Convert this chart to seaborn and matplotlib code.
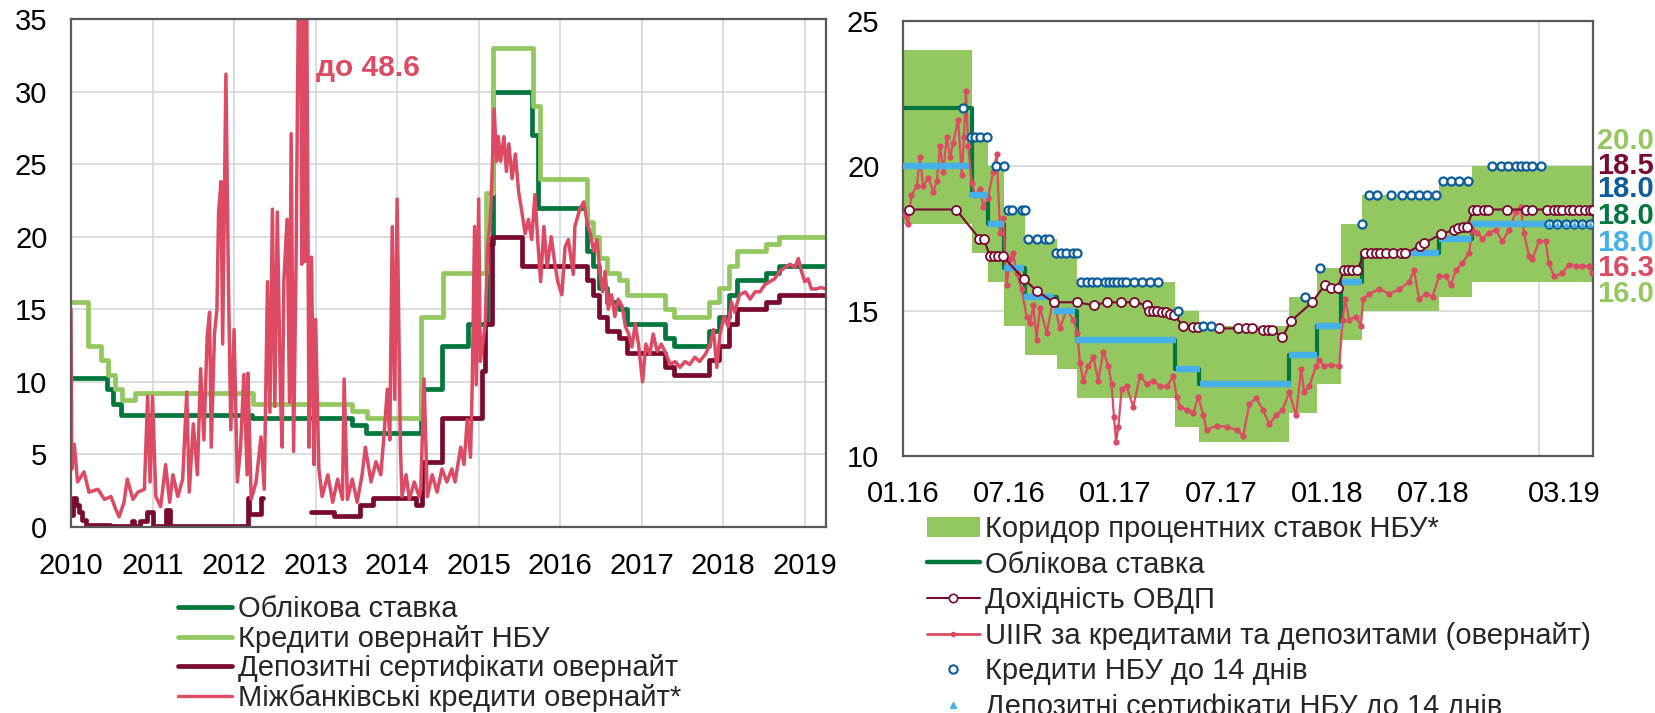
import matplotlib
matplotlib.use("Agg")
import matplotlib.pyplot as plt
import seaborn as sns
from matplotlib.lines import Line2D
from matplotlib.patches import Patch

# colours
DGREEN = "#00773C"
LGREEN = "#92C85F"
MAROON = "#7A0A2E"
PINK = "#DC4B63"
DBLUE = "#0C5C9B"
LBLUE = "#45B0EA"
GRID = "#D3D8DB"
SPINE = "#595959"

# ---------------- left panel data (decimal years) ----------------
disc_t = [2010.0, 2010.436, 2010.52, 2010.61, 2012.224, 2013.441, 2013.616, 2014.288,
          2014.545, 2014.868, 2015.099, 2015.170, 2015.655, 2015.732, 2016.325, 2016.402,
          2016.478, 2016.574, 2016.727, 2016.822, 2017.282, 2017.397, 2017.819, 2017.953,
          2018.068, 2018.164, 2018.529, 2018.682, 2019.27]
disc_v = [10.25, 9.5, 8.5, 7.75, 7.5, 7.0, 6.5, 9.5, 12.5, 14.0, 19.5, 30.0, 27.0, 22.0,
          19.0, 18.0, 16.5, 15.5, 15.0, 14.0, 13.0, 12.5, 13.5, 14.5, 16.0, 17.0, 17.5, 18.0, 18.0]

refi_t = [2010.0, 2010.21, 2010.37, 2010.45, 2010.54, 2010.63, 2010.78, 2012.23, 2013.45,
          2013.63, 2014.29, 2014.56, 2015.09, 2015.17, 2015.67, 2015.755, 2016.325, 2016.402,
          2016.478, 2016.574, 2016.727, 2016.822, 2017.282, 2017.397, 2017.819, 2017.953,
          2018.068, 2018.164, 2018.529, 2018.682, 2019.27]
refi_v = [15.5, 12.5, 11.5, 10.5, 9.5, 8.75, 9.25, 8.5, 8.0, 7.5, 14.5, 17.5, 23.0, 33.0,
          29.0, 24.0, 21.0, 20.0, 18.5, 17.5, 17.0, 16.0, 15.0, 14.5, 15.5, 16.5, 18.0, 19.0,
          19.5, 20.0, 20.0]

cd1_t = [2010.0, 2010.02, 2010.06, 2010.10, 2010.14, 2010.19, 2010.48, 2010.75, 2010.77,
         2010.85, 2010.93, 2011.01, 2011.17, 2011.21, 2012.17, 2012.185, 2012.31, 2012.33, 2012.35]
cd1_v = [0.8, 2.0, 1.5, 1.0, 0.5, 0.15, 0.05, 0.4, 0.05, 0.4, 1.0, 0.05, 1.2, 0.05, 2.0,
         0.9, 0.9, 2.0, 2.0]
cd2_t = [2012.94, 2013.23, 2013.55, 2013.70, 2014.23, 2014.30, 2014.55, 2015.04, 2015.08,
         2015.16, 2015.53, 2016.325, 2016.402, 2016.478, 2016.574, 2016.727, 2016.822,
         2017.282, 2017.397, 2017.819, 2017.953, 2018.068, 2018.164, 2018.529, 2018.682, 2019.27]
cd2_v = [1.0, 0.75, 1.5, 2.0, 1.5, 4.5, 7.5, 10.75, 14.0, 20.0, 18.0, 17.0, 16.0, 14.5,
         13.5, 13.0, 12.0, 11.0, 10.5, 11.5, 12.5, 14.0, 15.0, 15.5, 16.0, 16.0]

ibr_t = [2010.00, 2010.01, 2010.04, 2010.08, 2010.16, 2010.22, 2010.33, 2010.41, 2010.49, 2010.55,
         2010.59, 2010.65, 2010.69, 2010.76, 2010.82, 2010.90, 2010.94, 2010.97, 2011.00, 2011.04,
         2011.10, 2011.16, 2011.21, 2011.25, 2011.31, 2011.37, 2011.42, 2011.45, 2011.50, 2011.55,
         2011.59, 2011.63, 2011.67, 2011.70, 2011.72, 2011.76, 2011.79, 2011.81, 2011.84, 2011.86,
         2011.90, 2011.93, 2011.96, 2012.00, 2012.04, 2012.08, 2012.12, 2012.16, 2012.17, 2012.21,
         2012.27, 2012.33, 2012.37, 2012.41, 2012.44, 2012.47, 2012.50, 2012.53, 2012.57, 2012.59,
         2012.61, 2012.65, 2012.68, 2012.70, 2012.73, 2012.76, 2012.78, 2012.81, 2012.83, 2012.85,
         2012.87, 2012.89, 2012.92, 2012.95, 2012.98, 2013.00, 2013.04, 2013.08, 2013.15, 2013.21,
         2013.27, 2013.33, 2013.35, 2013.39, 2013.45, 2013.51, 2013.57, 2013.61, 2013.68, 2013.74,
         2013.80, 2013.84, 2013.88, 2013.91, 2013.94, 2013.97, 2014.00, 2014.04, 2014.06, 2014.11,
         2014.15, 2014.21, 2014.27,
         2014.29, 2014.33, 2014.37, 2014.43, 2014.49, 2014.55, 2014.61, 2014.67, 2014.71, 2014.78,
         2014.82, 2014.86, 2014.90, 2014.92, 2014.95, 2014.97,
         2015.00, 2015.02, 2015.05, 2015.08, 2015.11, 2015.14, 2015.16, 2015.19, 2015.22, 2015.24,
         2015.27, 2015.31, 2015.34, 2015.37, 2015.41, 2015.45, 2015.49, 2015.53, 2015.57, 2015.61,
         2015.65, 2015.69, 2015.73, 2015.76, 2015.80, 2015.84, 2015.89, 2015.93, 2015.97,
         2016.02, 2016.06, 2016.10, 2016.16, 2016.18, 2016.24, 2016.29, 2016.33, 2016.37, 2016.41,
         2016.45, 2016.49, 2016.52, 2016.55, 2016.59, 2016.63, 2016.67, 2016.71, 2016.76, 2016.80,
         2016.84, 2016.88, 2016.92, 2016.96,
         2017.01, 2017.05, 2017.10, 2017.14, 2017.19, 2017.24, 2017.30, 2017.35, 2017.41, 2017.47,
         2017.53, 2017.59, 2017.65, 2017.71, 2017.78, 2017.84, 2017.88, 2017.92, 2017.96,
         2018.01, 2018.06, 2018.10, 2018.14, 2018.20, 2018.27, 2018.33, 2018.39, 2018.45, 2018.51,
         2018.57, 2018.63, 2018.69, 2018.76, 2018.82, 2018.88, 2018.92, 2018.96,
         2019.00, 2019.04, 2019.08, 2019.14, 2019.20, 2019.26]
ibr_v = [15.0, 4.0, 5.7, 3.1, 3.8, 2.4, 2.6, 1.9, 2.1, 1.2,
         0.7, 1.7, 3.3, 1.9, 2.4, 2.6, 9.0, 3.1, 9.0, 2.1,
         1.4, 4.3, 1.7, 3.6, 2.1, 3.3, 9.3, 2.4, 7.1, 3.6,
         10.9, 6.0, 13.1, 14.8, 5.5, 13.3, 15.0, 21.7, 23.8, 12.6,
         31.2, 17.1, 6.7, 13.6, 3.1, 5.5, 10.5, 3.6, 10.6, 1.9,
         3.1, 6.2, 2.6, 16.9, 7.9, 21.9, 8.3, 21.7, 9.0, 5.5,
         16.9, 21.2, 8.6, 27.1, 5.2, 18.1, 31.2, 48.6, 18.1, 40.0,
         18.3, 38.0, 5.5, 18.6, 4.3, 14.3, 4.0, 2.1, 3.6, 1.7,
         3.3, 1.9, 10.2, 1.9, 3.3, 1.7, 3.6, 5.5, 3.1, 4.5,
         3.6, 6.4, 9.5, 6.0, 20.7, 8.8, 22.6, 5.5, 2.1, 3.6,
         1.9, 3.1, 2.1,
         2.6, 10.2, 2.1, 3.6, 2.4, 4.0, 3.1, 4.0, 3.1, 5.5,
         4.3, 7.4, 4.8, 9.5, 20.7, 9.8,
         22.6, 11.4, 12.6, 14.0, 19.3, 21.0, 23.6, 28.8, 25.2, 26.9,
         25.2, 26.9, 24.5, 26.4, 24.0, 25.7, 23.1, 21.7, 20.2, 21.2,
         19.8, 22.9, 19.3, 16.9, 20.7, 17.9, 20.0, 18.3, 16.9,
         16.0, 19.3, 19.8, 17.4, 20.7, 21.9, 22.4, 21.0, 20.2, 19.0,
         19.8, 17.4, 16.2, 17.6, 15.0, 16.0, 14.5, 15.7, 15.2, 13.8,
         13.3, 12.4, 14.0, 12.6,
         10.0, 12.6, 11.9, 13.3, 12.1, 12.6, 11.9, 11.2, 11.4, 11.0,
         11.4, 11.2, 11.7, 11.4, 11.9, 12.6, 13.6, 11.0, 13.3,
         14.5, 13.8, 15.5, 14.8, 16.0, 16.2, 15.7, 16.2, 16.2, 16.7,
         16.9, 17.1, 17.6, 17.9, 18.1, 17.9, 18.5, 17.6,
         16.9, 17.1, 16.4, 16.4, 16.5, 16.4]
assert len(ibr_t) == len(ibr_v)

left_years = list(range(2010, 2020))
left_labels = ["Облікова ставка", "Кредити овернайт НБУ",
               "Депозитні сертифікати овернайт", "Міжбанківські кредити овернайт*"]

# ---------------- right panel data (decimal years) ----------------
rr_t = [2016.0, 2016.325, 2016.402, 2016.478, 2016.574, 2016.727, 2016.822, 2017.282,
        2017.397, 2017.819, 2017.953, 2018.068, 2018.164, 2018.529, 2018.682, 2019.26]
rr_disc = [22.0, 19.0, 18.0, 16.5, 15.5, 15.0, 14.0, 13.0, 12.5, 13.5, 14.5, 16.0, 17.0,
           17.5, 18.0, 18.0]
corr_hi = [24.0, 21.0, 20.0, 18.5, 17.5, 17.0, 16.0, 15.0, 14.5, 15.5, 16.5, 18.0, 19.0,
           19.5, 20.0, 20.0]
corr_lo = [18.0, 17.0, 16.0, 14.5, 13.5, 13.0, 12.0, 11.0, 10.5, 11.5, 12.5, 14.0, 15.0,
           15.5, 16.0, 16.0]

cd14_start = [2016.0, 2016.31, 2016.40, 2016.475, 2016.57, 2016.71, 2016.81, 2017.29,
              2017.40, 2017.82, 2017.95, 2018.07, 2018.165, 2018.53, 2018.68]
cd14_end = [2016.31, 2016.40, 2016.475, 2016.57, 2016.71, 2016.81, 2017.29, 2017.40,
            2017.83, 2017.955, 2018.07, 2018.165, 2018.53, 2018.68, 2019.03]
cd14_v = [20.0, 19.0, 18.0, 16.5, 15.5, 15.0, 14.0, 13.0, 12.5, 13.5, 14.5, 16.0, 17.0,
          17.5, 18.0]
cd14_tail_t = [2019.047, 2019.086, 2019.126, 2019.165, 2019.204, 2019.243]
cd14_tail_v = [18.0, 18.0, 18.0, 18.0, 18.0, 18.0]

ovdp_t = [2016.03, 2016.25, 2016.36, 2016.38, 2016.41, 2016.43, 2016.45, 2016.47, 2016.57, 2016.63,
          2016.71, 2016.82, 2016.90, 2016.96, 2017.03, 2017.09, 2017.15, 2017.16, 2017.18, 2017.20,
          2017.22, 2017.24, 2017.26, 2017.28, 2017.32, 2017.37, 2017.39, 2017.49, 2017.58, 2017.62,
          2017.645, 2017.70, 2017.72, 2017.74, 2017.79, 2017.83, 2017.93, 2017.99, 2018.02, 2018.05,
          2018.08, 2018.10, 2018.12, 2018.14, 2018.18, 2018.21, 2018.23, 2018.25, 2018.28, 2018.31,
          2018.35, 2018.37, 2018.44, 2018.46, 2018.54, 2018.60, 2018.62, 2018.64, 2018.66, 2018.69,
          2018.71, 2018.74, 2018.76, 2018.85, 2018.94, 2018.965, 2019.04, 2019.07, 2019.09, 2019.11,
          2019.14, 2019.16, 2019.19, 2019.215, 2019.24, 2019.255]
ovdp_v = [18.5, 18.5, 17.5, 17.5, 16.9, 16.9, 16.9, 16.9, 16.1, 15.7,
          15.3, 15.3, 15.2, 15.3, 15.3, 15.3, 15.2, 15.0, 15.0, 15.0,
          14.95, 14.95, 14.9, 14.85, 14.5, 14.45, 14.45, 14.4, 14.4, 14.4,
          14.4, 14.35, 14.35, 14.35, 14.1, 14.65, 15.3, 15.9, 15.8, 15.8,
          16.4, 16.4, 16.4, 16.4, 17.0, 17.0, 17.0, 17.0, 17.0, 17.0,
          17.0, 17.0, 17.25, 17.35, 17.65, 17.8, 17.85, 17.9, 17.9, 18.5,
          18.5, 18.5, 18.5, 18.5, 18.5, 18.5, 18.5, 18.5, 18.5, 18.5,
          18.5, 18.5, 18.5, 18.5, 18.5, 18.5]
assert len(ovdp_t) == len(ovdp_v)

uiir_t = [2016.01, 2016.025, 2016.04, 2016.065, 2016.08, 2016.095, 2016.12, 2016.143, 2016.16, 2016.175,
          2016.19, 2016.206, 2016.222, 2016.237, 2016.26, 2016.277, 2016.288, 2016.297, 2016.308, 2016.324,
          2016.34, 2016.363, 2016.379, 2016.40, 2016.426, 2016.442, 2016.458, 2016.473, 2016.489, 2016.505,
          2016.52, 2016.536, 2016.56, 2016.583, 2016.60, 2016.615, 2016.63, 2016.646, 2016.678, 2016.709,
          2016.74, 2016.772, 2016.803, 2016.822, 2016.835, 2016.85, 2016.874, 2016.898, 2016.921, 2016.945,
          2016.969, 2016.984, 2016.995, 2017.005, 2017.016, 2017.031, 2017.055, 2017.086, 2017.118, 2017.149,
          2017.181, 2017.212, 2017.244, 2017.275, 2017.291, 2017.307, 2017.338, 2017.37, 2017.393, 2017.417,
          2017.432, 2017.48, 2017.527, 2017.574, 2017.605, 2017.634, 2017.666, 2017.697, 2017.728, 2017.76,
          2017.79, 2017.823, 2017.854, 2017.878, 2017.893, 2017.917, 2017.948, 2017.964, 2017.987, 2018.019,
          2018.058, 2018.074, 2018.086, 2018.105, 2018.137, 2018.16, 2018.171, 2018.2, 2018.246, 2018.294,
          2018.341, 2018.388, 2018.411, 2018.435, 2018.466, 2018.498, 2018.529, 2018.56, 2018.584, 2018.608,
          2018.639, 2018.67, 2018.686, 2018.71, 2018.733, 2018.765, 2018.796, 2018.827, 2018.859, 2018.89,
          2018.914, 2018.929, 2018.953, 2018.969, 2019.0, 2019.031, 2019.047, 2019.071, 2019.11, 2019.141,
          2019.173, 2019.204, 2019.235, 2019.25]
uiir_v = [18.3, 18.0, 19.0, 19.3, 20.3, 19.3, 19.6, 19.1, 19.5, 20.7,
          19.8, 21.0, 20.3, 20.8, 21.6, 19.7, 21.0, 22.6, 20.7, 19.4,
          19.0, 19.2, 18.6, 18.9, 19.8, 20.4, 17.7, 18.2, 15.9, 16.8,
          17.0, 16.3, 15.75, 14.8, 14.6, 15.2, 14.0, 15.1, 14.25, 15.4,
          14.4, 15.05, 14.7, 14.25, 13.2, 12.6, 13.1, 13.4, 12.6, 13.6,
          13.1, 12.5, 11.35, 10.5, 11.0, 12.3, 12.4, 11.7, 12.75, 12.5,
          12.6, 12.4, 12.4, 12.75, 12.05, 11.7, 11.6, 11.5, 12.05, 11.4,
          10.9, 11.05, 11.0, 10.9, 10.7, 11.8, 12.0, 11.6, 11.1, 11.4,
          11.6, 12.2, 11.4, 13.0, 12.2, 12.4, 13.1, 13.3, 13.1, 13.15,
          13.1, 14.7, 15.4, 14.7, 14.8, 14.5, 15.4, 15.6, 15.75, 15.6,
          15.75, 16.0, 16.4, 15.4, 15.6, 15.5, 16.2, 16.2, 15.9, 16.4,
          16.65, 17.0, 17.8, 17.7, 17.5, 17.7, 17.8, 17.4, 17.8, 18.4,
          18.6, 17.7, 16.9, 16.8, 17.4, 17.4, 16.65, 16.2, 16.3, 16.6,
          16.55, 16.55, 16.55, 16.3]
assert len(uiir_t) == len(uiir_v)

kr_t = [2016.285, 2016.319, 2016.34, 2016.363, 2016.398, 2016.439, 2016.476, 2016.497, 2016.513,
        2016.56, 2016.575, 2016.591, 2016.63, 2016.67, 2016.69, 2016.722, 2016.744, 2016.769,
        2016.803, 2016.822, 2016.838, 2016.869, 2016.89, 2016.914, 2016.953, 2016.973, 2016.992,
        2017.011, 2017.031, 2017.052, 2017.09, 2017.126, 2017.165, 2017.204, 2017.299, 2017.417,
        2017.451, 2017.895, 2017.969, 2018.163, 2018.196, 2018.235, 2018.301, 2018.356, 2018.396,
        2018.435, 2018.474, 2018.513, 2018.548, 2018.587, 2018.623, 2018.664, 2018.78, 2018.819,
        2018.856, 2018.89, 2018.914, 2018.937, 2018.969, 2019.008, 2019.047, 2019.086, 2019.126,
        2019.165, 2019.204, 2019.243]
kr_v = [22.0, 21.0, 21.0, 21.0, 21.0, 20.0, 20.0, 18.5, 18.5,
        18.5, 18.5, 17.5, 17.5, 17.5, 17.5, 17.0, 17.0, 17.0,
        17.0, 17.0, 16.0, 16.0, 16.0, 16.0, 16.0, 16.0, 16.0,
        16.0, 16.0, 16.0, 16.0, 16.0, 16.0, 16.0, 15.0, 14.5,
        14.5, 15.5, 16.5, 18.0, 19.0, 19.0, 19.0, 19.0, 19.0,
        19.0, 19.0, 19.0, 19.5, 19.5, 19.5, 19.5, 20.0, 20.0,
        20.0, 20.0, 20.0, 20.0, 20.0, 20.0, 18.0, 18.0, 18.0,
        18.0, 18.0, 18.0]
assert len(kr_t) == len(kr_v)

right_ticks = [2016.0, 2016.5, 2017.0, 2017.5, 2018.0, 2018.5, 2019.12]
right_ticklabels = ["01.16", "07.16", "01.17", "07.17", "01.18", "07.18", "03.19"]
right_labels = ["Коридор процентних ставок НБУ*", "Облікова ставка", "Дохідність ОВДП",
                "UIIR за кредитами та депозитами (овернайт)", "Кредити НБУ до 14 днів",
                "Депозитні сертифікати НБУ до 14 днів"]
last_vals = ["20.0", "18.5", "18.0", "18.0", "18.0", "16.3", "16.0"]
last_colors = [LGREEN, MAROON, DBLUE, DGREEN, LBLUE, PINK, LGREEN]
last_ypos = [0.724, 0.667, 0.614, 0.552, 0.490, 0.432, 0.373]

# ---------------- figure ----------------
sns.set_style("white")
plt.rcParams["font.family"] = ["Liberation Sans", "DejaVu Sans"]
FS = 21

W, H = 1655, 713
fig = plt.figure(figsize=(W / 100, H / 100), dpi=100)
ax1 = fig.add_axes([71 / W, 1 - 527 / H, (826 - 71) / W, (527 - 19) / H])
ax2 = fig.add_axes([903 / W, 1 - 456 / H, (1593 - 903) / W, (456 - 21) / H])


def style_axes(ax):
    for sp in ax.spines.values():
        sp.set_color(SPINE)
        sp.set_linewidth(1.6)
        sp.set_visible(True)
    ax.tick_params(which="both", direction="in", length=6, width=1.4, color=SPINE,
                   labelsize=FS, labelcolor="black", top=False, right=False)
    ax.set_axisbelow(True)


# left panel
sns.lineplot(x=disc_t, y=disc_v, ax=ax1, color=DGREEN, linewidth=3.4,
             drawstyle="steps-post", estimator=None, sort=False)
sns.lineplot(x=refi_t, y=refi_v, ax=ax1, color=LGREEN, linewidth=3.4,
             drawstyle="steps-post", estimator=None, sort=False)
sns.lineplot(x=cd1_t, y=cd1_v, ax=ax1, color=MAROON, linewidth=3.4,
             drawstyle="steps-post", estimator=None, sort=False)
sns.lineplot(x=cd2_t, y=cd2_v, ax=ax1, color=MAROON, linewidth=3.4,
             drawstyle="steps-post", estimator=None, sort=False)
sns.lineplot(x=ibr_t, y=ibr_v, ax=ax1, color=PINK, linewidth=2.5,
             estimator=None, sort=False)

ax1.set_xlim(2010.0, 2019.26)
ax1.set_ylim(0, 35)
ax1.set_xticks(left_years)
ax1.set_xticklabels([str(y) for y in left_years])
ax1.set_yticks(range(0, 36, 5))
ax1.grid(True, color=GRID, linewidth=1.2)
style_axes(ax1)
ax1.tick_params(axis="y", pad=17)
ax1.tick_params(axis="x", pad=18)
ax1.set_xlabel("")
ax1.set_ylabel("")
ax1.text(2013.01, 31.6, "до 48.6", color=PINK, fontsize=21.5, fontweight="bold",
         ha="left", va="center")

# right panel
ax2.fill_between(rr_t, corr_lo, corr_hi, step="post", color=LGREEN, linewidth=0, zorder=1)
sns.lineplot(x=rr_t, y=rr_disc, ax=ax2, color=DGREEN, linewidth=3.0,
             drawstyle="steps-post", estimator=None, sort=False, zorder=2)
sns.lineplot(x=uiir_t, y=uiir_v, ax=ax2, color=PINK, linewidth=1.6, marker="o",
             markersize=4.5, markeredgewidth=0, estimator=None, sort=False, zorder=3)
ax2.hlines(cd14_v, cd14_start, cd14_end, color=LBLUE, linewidth=4.6, zorder=4)
sns.lineplot(x=ovdp_t, y=ovdp_v, ax=ax2, color=MAROON, linewidth=1.5, marker="o",
             markersize=6.5, markerfacecolor="white", markeredgecolor=MAROON,
             markeredgewidth=1.3, estimator=None, sort=False, zorder=5)
sns.scatterplot(x=kr_t, y=kr_v, ax=ax2, marker="o", s=34, color="white",
                edgecolor=DBLUE, linewidth=1.6, zorder=6)
sns.scatterplot(x=cd14_tail_t, y=cd14_tail_v, ax=ax2, marker="^", s=22, color=LBLUE,
                linewidth=0, zorder=7)

ax2.set_xlim(2016.0, 2019.255)
ax2.set_ylim(10, 25)
ax2.set_yticks([10, 15, 20, 25])
ax2.set_xticks(right_ticks)
ax2.set_xticklabels(right_ticklabels)
ax2.set_xticks([2017, 2018, 2019], minor=True)
ax2.grid(True, axis="y", color=GRID, linewidth=1.2)
ax2.grid(True, axis="x", which="minor", color=GRID, linewidth=1.2)
ax2.grid(False, axis="x", which="major")
style_axes(ax2)
ax2.tick_params(axis="x", which="major", length=0, pad=17)
ax2.tick_params(axis="y", pad=17)
ax2.set_xlabel("")
ax2.set_ylabel("")

for txt, col, yp in zip(last_vals, last_colors, last_ypos):
    ax2.text(1.006, yp, txt, transform=ax2.transAxes, color=col, fontsize=FS,
             fontweight="bold", ha="left", va="center")

# legends
left_handles = [Line2D([], [], color=DGREEN, lw=3.4),
                Line2D([], [], color=LGREEN, lw=3.4),
                Line2D([], [], color=MAROON, lw=3.4),
                Line2D([], [], color=PINK, lw=2.4)]
fig.legend(left_handles, left_labels, loc="upper left",
           bbox_to_anchor=(178 / W, 1 - 595 / H), frameon=False, fontsize=FS,
           handlelength=1.85, handletextpad=0.2, labelspacing=0.06,
           borderpad=0, borderaxespad=0)

right_handles = [Patch(facecolor=LGREEN, edgecolor="none"),
                 Line2D([], [], color=DGREEN, lw=3.2),
                 Line2D([], [], color=MAROON, lw=1.5, marker="o", ms=6,
                        mfc="white", mec=MAROON, mew=1.2),
                 Line2D([], [], color=PINK, lw=2.0, marker="o", ms=4, mew=0),
                 Line2D([], [], ls="none", marker="o", ms=6, mfc="white",
                        mec=DBLUE, mew=1.5),
                 Line2D([], [], ls="none", marker="^", ms=5, color=LBLUE)]
fig.legend(right_handles, right_labels, loc="upper left",
           bbox_to_anchor=(927 / W, 1 - 515 / H), frameon=False, fontsize=FS,
           handlelength=1.8, handletextpad=0.2, labelspacing=0.26,
           borderpad=0, borderaxespad=0)

fig.savefig("out.png", dpi=100)
